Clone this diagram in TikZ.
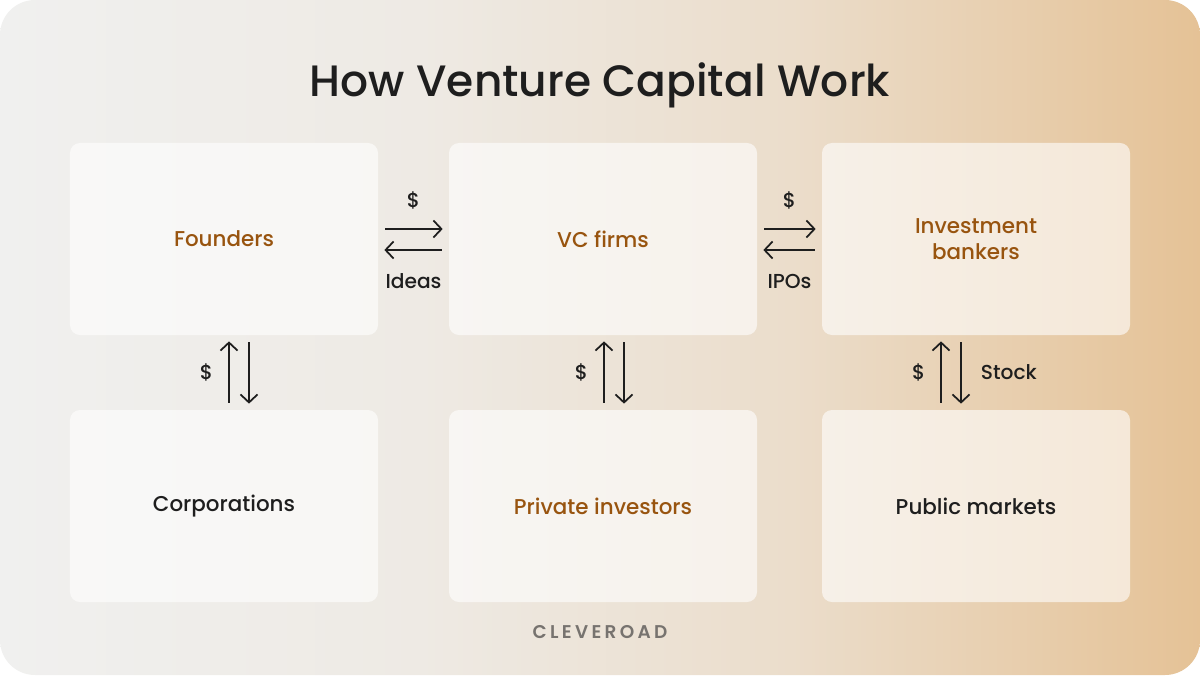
\documentclass[tikz,border=0pt]{standalone}
\usepackage{fontspec}
\setmainfont{Poppins}[UprightFont=* Medium, BoldFont=* SemiBold]
\usepackage{xcolor}
\usetikzlibrary{arrows.meta,positioning}

\definecolor{bgleft}{HTML}{F0F0EF}
\definecolor{bgquarter}{HTML}{EEEAE4}
\definecolor{bgmid}{HTML}{EBDDCB}
\definecolor{bgright}{HTML}{E5C296}
\definecolor{brownlabel}{HTML}{98540F}
\definecolor{darktext}{HTML}{1E1E1E}
\definecolor{logogray}{HTML}{77736F}

\pgfdeclarehorizontalshading{bgshade}{100bp}{color(0bp)=(bgleft); color(25bp)=(bgleft);
  color(42.5bp)=(bgquarter); color(58bp)=(bgmid); color(75bp)=(bgright); color(100bp)=(bgright)}

\tikzset{
  flowbox/.style={rounded corners=2mm, fill=white, fill opacity=0.6, text opacity=1,
    minimum width=61.6mm, minimum height=38.4mm, inner sep=0pt, align=center,
    font=\fontsize{12.2}{15}\selectfont},
  flowarrow/.style={line width=1pt, draw=darktext, shorten <=1.4mm, shorten >=1.2mm,
    -{Straight Barb[length=1.6mm,width=3.4mm]}},
  flowlabel/.style={inner sep=0pt, text=darktext, font=\fontsize{11.5}{14}\selectfont}
}

\begin{document}
\begin{tikzpicture}[x=0.2mm, y=-0.2mm]
		\useasboundingbox (0,0) rectangle (1200,675);
		\fill[white] (0,0) rectangle (1200,675);
		\shade[rounded corners=7mm, shading=bgshade] (0,0) rectangle (1200,675);
		\node[anchor=base, text=darktext, font=\fontsize{25}{30}\selectfont] (title) at (600,96) {How Venture Capital Work};
		\node[flowbox, text=brownlabel] (founders) at (224,239) {Founders};
		\node[flowbox, text=brownlabel] (vcfirms) at (603,239) {VC firms};
		\node[flowbox, text=brownlabel] (bankers) at (976,239) {Investment\\bankers};
		\node[flowbox, text=darktext] (corps) at (224,506) {Corporations};
		\node[flowbox, text=brownlabel] (investors) at (603,506) {Private investors};
		\node[flowbox, text=darktext] (markets) at (976,506) {Public markets};
		\draw[flowarrow] ([yshift=2mm]founders.east) -- node[flowlabel, above=3.8mm] {\$} ([yshift=2mm]vcfirms.west);
		\draw[flowarrow] ([yshift=-2.2mm]vcfirms.west) -- node[flowlabel, below=4.6mm] {Ideas} ([yshift=-2.2mm]founders.east);
		\draw[flowarrow] ([yshift=2mm]vcfirms.east) -- node[flowlabel, above=3.8mm] {\$} ([yshift=2mm]bankers.west);
		\draw[flowarrow] ([yshift=-2.2mm]bankers.west) -- node[flowlabel, below=4.6mm] {IPOs} ([yshift=-2.2mm]vcfirms.east);
		\draw[flowarrow] ([xshift=1mm]corps.north) -- node[flowlabel, left=3mm] {\$} ([xshift=1mm]founders.south);
		\draw[flowarrow] ([xshift=5mm]founders.south) -- ([xshift=5mm]corps.north);
		\draw[flowarrow] ([xshift=0.2mm]investors.north) -- node[flowlabel, left=3mm] {\$} ([xshift=0.2mm]vcfirms.south);
		\draw[flowarrow] ([xshift=4.2mm]vcfirms.south) -- ([xshift=4.2mm]investors.north);
		\draw[flowarrow] ([xshift=-7mm]markets.north) -- node[flowlabel, left=3mm] {\$} ([xshift=-7mm]bankers.south);
		\draw[flowarrow] ([xshift=-3mm]bankers.south) -- node[flowlabel, right=3.8mm] {Stock} ([xshift=-3mm]markets.north);
		\node[anchor=base, text=logogray, font=\fontsize{10.5}{13}\selectfont\bfseries\addfontfeatures{LetterSpace=18}] (logo) at (600,638) {CLEVEROAD};
\end{tikzpicture}
\end{document}
